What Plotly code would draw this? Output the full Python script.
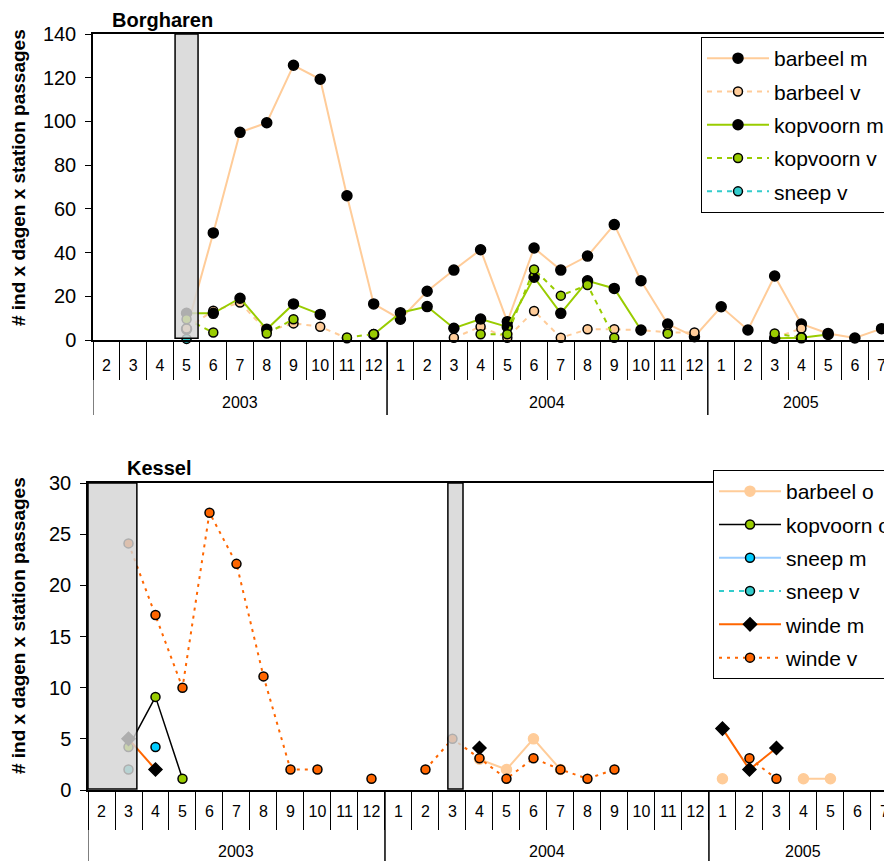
import plotly.graph_objects as go

N = None
# category axis: months Feb 2003 .. Jul 2005
years = ["2003"] * 11 + ["2004"] * 12 + ["2005"] * 7
months = ["2", "3", "4", "5", "6", "7", "8", "9", "10", "11", "12",
          "1", "2", "3", "4", "5", "6", "7", "8", "9", "10", "11", "12",
          "1", "2", "3", "4", "5", "6", "7"]
cats = [y + "-" + m for y, m in zip(years, months)]

# ---- Borgharen ----
bor_barbeel_m = [N, N, N, 5, 49, 95, 99.4, 125.7, 119.3, 66, 16.5,
                 9.5, 22.3, 32, 41.3, 8.4, 42.1, 32, 38.4, 52.8, 27.1, 7.3, 1.5,
                 15.2, 4.6, 29.3, 7.3, 3.0, 0.9, 5.2]
bor_barbeel_v = [N, N, N, 5.3, 13.4, 17.1, 4, 7.6, 6.1, 0.8, N,
                 N, N, 1.0, 6.1, 1.0, 13.3, 1.0, 4.9, 4.9, 4.5, 3.5, 3.4,
                 N, N, 1.0, 5.3, N, N, N]
bor_kopvoorn_m = [N, N, N, 12.2, 12.2, 19.1, 4.9, 16.5, 11.7, N, 2.5,
                  12.5, 15.3, 5.4, 9.6, 6.0, 28.7, 12.2, 27.1, 23.6, 4.6, N, N,
                  N, N, 0.8, 1.0, 2.5, N, N]
bor_kopvoorn_v = [N, N, N, 9.5, 3.4, N, 3.0, 9.5, N, 1.2, 2.7,
                  N, N, N, 2.6, 2.6, 32.3, 20.3, 25.2, 1.0, N, 2.9, N,
                  N, N, 3.0, 1.1, N, N, N]
bor_sneep_v = [N, N, N, 0.5] + [N] * 26
bor_outage = [(2.57, 3.43)]  # station outage, in fractional month positions

# ---- Kessel ----
kes_barbeel_o = [N] * 14 + [3.0, 2.0, 5.0, 2.0, N, N, N, N, N, 1.1, N, N, 1.1, 1.1, N, N]
kes_kopvoorn_o = [N, 4.2, 9.1, 1.1] + [N] * 26
kes_sneep_m = [N, N, 4.2] + [N] * 27
kes_sneep_v = [N, 2.0] + [N] * 28
kes_winde_m = [N, 5.0, 2.0, N, N, N, N, N, N, N, N,
               N, N, N, 4.1, N, N, N, N, N, N, N, N,
               6.0, 2.0, 4.1, N, N, N, N]
kes_winde_v = [N, 24.1, 17.1, 10.0, 27.1, 22.1, 11.1, 2.0, 2.0, N, 1.1,
               N, 2.0, 5.0, 3.1, 1.1, 3.1, 2.0, 1.1, 2.0, N, N, N,
               N, 3.1, 1.1, N, N, N, N]
kes_outage = [(-0.5, 1.31), (12.83, 13.39)]

FONT = "Liberation Sans, Arial, sans-serif"
PEACH = "#FFCC99"
GREEN = "#99CC00"
CYAN = "#33CCCC"
ORANGE = "#FF6600"

# page body has an 8px margin: figure placed at (8, 8)
OX, OY = 8, 8
W, H = 892 - OX, 861 - OY


def px_x(p):
    return (p - OX) / W


def px_y(p):
    return 1 - (p - OY) / H


fig = go.Figure()


def add(name, y, xa, ya, leg, lcolor, dash, mcolor, msym="circle", msize=9,
        mline="black", lw=2):
    fig.add_trace(go.Scatter(
        x=cats, y=y, xaxis=xa, yaxis=ya, name=name,
        legend=leg, legendgroup=leg + name, mode="lines+markers",
        line=dict(color=lcolor, width=lw, dash=dash),
        marker=dict(color=mcolor, symbol=msym, size=msize,
                    line=dict(color=mline, width=1.5)),
        cliponaxis=False, connectgaps=False))


add("barbeel m", bor_barbeel_m, "x", "y", "legend", PEACH, "solid", "black", msize=10)
add("barbeel v", bor_barbeel_v, "x", "y", "legend", PEACH, "5px,5px", PEACH)
add("kopvoorn m", bor_kopvoorn_m, "x", "y", "legend", GREEN, "solid", "black", msize=10)
add("kopvoorn v", bor_kopvoorn_v, "x", "y", "legend", GREEN, "5px,5px", GREEN)
add("sneep v", bor_sneep_v, "x", "y", "legend", CYAN, "5px,5px", CYAN)

add("barbeel o", kes_barbeel_o, "x2", "y2", "legend2", PEACH, "solid", PEACH, msize=10, mline=PEACH)
add("kopvoorn o", kes_kopvoorn_o, "x2", "y2", "legend2", "black", "solid", GREEN, lw=1.5)
add("sneep m", kes_sneep_m, "x2", "y2", "legend2", "#99CCFF", "solid", "#00CCFF")
add("sneep v", kes_sneep_v, "x2", "y2", "legend2", CYAN, "5px,5px", CYAN)
add("winde m", kes_winde_m, "x2", "y2", "legend2", ORANGE, "solid", "black", msym="diamond", msize=10)
add("winde v", kes_winde_v, "x2", "y2", "legend2", ORANGE, "3px,5px", ORANGE)

xcommon = dict(type="category", categoryorder="array", categoryarray=cats,
               tickmode="array", tickvals=cats, ticktext=months, tickangle=0,
               tickson="boundaries", showline=True, linecolor="black", linewidth=1.5,
               mirror=True, ticks="outside", ticklen=38, tickcolor="black", tickwidth=1,
               tickfont=dict(family=FONT, size=16, color="black"),
               showgrid=False, zeroline=False)
ycommon = dict(showline=True, linecolor="black", linewidth=1.5, ticks="outside",
               ticklen=6, tickcolor="black", showgrid=False, zeroline=False,
               ticklabelstandoff=5,
               tickfont=dict(family=FONT, size=20, color="black"))

ytitle = "# ind x dagen x station passages"
annotations = [
    dict(text="<b>Borgharen</b>", xref="paper", yref="paper", x=px_x(110), y=px_y(20),
         xanchor="left", yanchor="middle", showarrow=False,
         font=dict(family=FONT, size=20, color="black")),
    dict(text="<b>Kessel</b>", xref="paper", yref="paper", x=px_x(125), y=px_y(468),
         xanchor="left", yanchor="middle", showarrow=False,
         font=dict(family=FONT, size=20, color="black")),
    dict(text="<b>" + ytitle + "</b>", xref="paper", yref="paper", x=px_x(18), y=px_y(178),
         xanchor="center", yanchor="middle", textangle=-90, showarrow=False,
         font=dict(family=FONT, size=19, color="black")),
    dict(text="<b>" + ytitle + "</b>", xref="paper", yref="paper", x=px_x(18), y=px_y(626),
         xanchor="center", yanchor="middle", textangle=-90, showarrow=False,
         font=dict(family=FONT, size=19, color="black")),
]

shapes = []
# year labels and year dividers below each category axis
for xa, axis_px, label_px, end_px in (("x", 340, 402, 415), ("x2", 790, 851, 861)):
    start = 0
    for i in range(1, len(years) + 1):
        if i == len(years) or years[i] != years[start]:
            annotations.append(dict(text=years[start], xref=xa, yref="paper",
                                    x=(start + i - 1) / 2, y=px_y(label_px),
                                    xanchor="center", yanchor="middle", showarrow=False,
                                    font=dict(family=FONT, size=16, color="black")))
            for b in (start - 0.5, i - 0.5):
                shapes.append(dict(type="line", xref=xa, yref="paper", x0=b, x1=b,
                                   y0=px_y(axis_px), y1=px_y(end_px),
                                   line=dict(color="black", width=1)))
            start = i

BOX = dict(fillcolor="rgba(212,212,212,0.82)", line=dict(color="black", width=1.5), layer="above")
for x0, x1 in bor_outage:
    shapes.append(dict(type="rect", xref="x", yref="y domain", x0=x0, x1=x1, y0=0.006, y1=1, **BOX))
for x0, x1 in kes_outage:
    shapes.append(dict(type="rect", xref="x2", yref="y2 domain", x0=x0, x1=x1, y0=0.003, y1=1, **BOX))

legcommon = dict(xanchor="left", yanchor="top", bordercolor="black", borderwidth=1,
                 bgcolor="white", font=dict(family=FONT, size=21, color="black"),
                 tracegroupgap=3, itemwidth=62)

fig.update_layout(
    width=W, height=H, plot_bgcolor="white", paper_bgcolor="white",
    margin=dict(l=0, r=0, t=0, b=0, autoexpand=False),
    xaxis=dict(domain=[px_x(93), 1], anchor="y", range=[-0.5, 29.39],
               ticklabelstandoff=10, **xcommon),
    yaxis=dict(domain=[px_y(340), px_y(34)], anchor="x", range=[0, 140], dtick=20, **ycommon),
    xaxis2=dict(domain=[px_x(88), 1], anchor="y2", range=[-0.5, 29.28],
                ticklabelstandoff=6, **xcommon),
    yaxis2=dict(domain=[px_y(790), px_y(483)], anchor="x2", range=[0, 30], dtick=5, **ycommon),
    legend=dict(x=px_x(701), y=px_y(37), **legcommon),
    legend2=dict(x=px_x(713), y=px_y(470), **legcommon),
    annotations=annotations,
    shapes=shapes,
)

fig.write_html("out.html")
